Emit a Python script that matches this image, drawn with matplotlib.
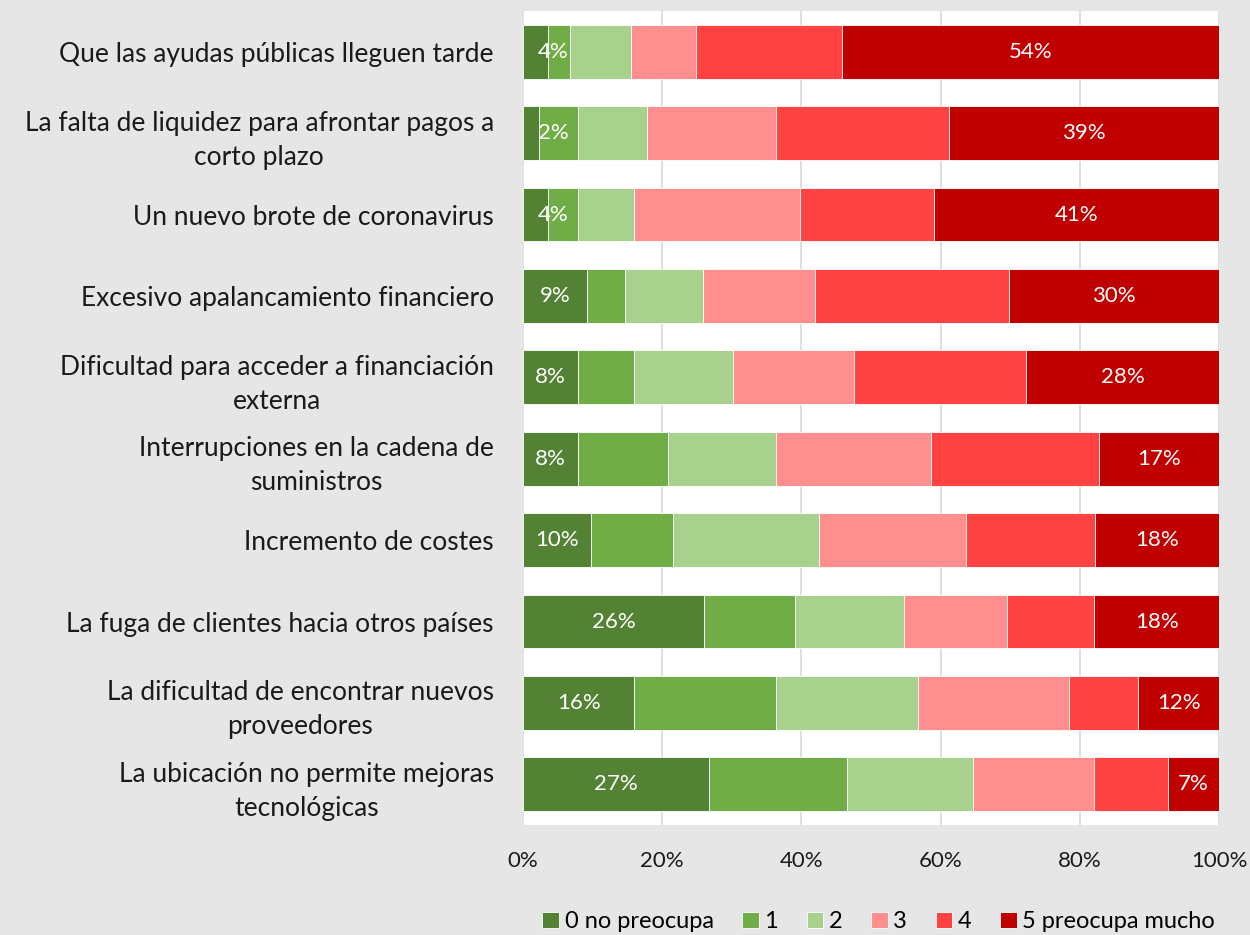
import matplotlib.pyplot as plt
import numpy as np

# Categories, top to bottom.
categories = [
    'Que las ayudas públicas lleguen tarde',
    'La falta de liquidez para afrontar pagos a\ncorto plazo',
    'Un nuevo brote de coronavirus',
    'Excesivo apalancamiento financiero',
    'Dificultad para acceder a financiación\nexterna',
    'Interrupciones en la cadena de\nsuministros',
    'Incremento de costes',
    'La fuga de clientes hacia otros países',
    'La dificultad de encontrar nuevos\nproveedores',
    'La ubicación no permite mejoras\ntecnológicas',
]

levels = ['0 no preocupa', '1', '2', '3', '4', '5 preocupa mucho']

# Share of answers (%) per level, one list per level, in category order.
lvl0 = [3.6, 2.3, 3.6, 9.2, 7.9, 7.9, 9.8, 26.0, 16.0, 26.7]
lvl1 = [3.1, 5.6, 4.3, 5.4, 8.0, 12.9, 11.8, 13.1, 20.4, 19.8]
lvl2 = [8.8, 9.9, 8.1, 11.2, 14.3, 15.6, 21.0, 15.6, 20.4, 18.1]
lvl3 = [9.4, 18.6, 23.8, 16.2, 17.4, 22.2, 21.0, 14.9, 21.7, 17.5]
lvl4 = [21.0, 24.8, 19.2, 27.8, 24.7, 24.1, 18.6, 12.5, 9.9, 10.6]
lvl5 = [54.1, 38.8, 41.0, 30.2, 27.7, 17.3, 17.8, 17.9, 11.6, 7.3]

colors = ['#548235', '#70AD47', '#A9D18E', '#FF8F8F', '#FF4343', '#C00000']
bg = '#E7E6E6'

plt.rcParams['font.family'] = ['Lato', 'DejaVu Sans']

fig = plt.figure(figsize=(12.5, 9.35), dpi=100, facecolor=bg)
ax = fig.add_axes([0.4184, 0.1176, 0.5568, 0.8706])

series = [lvl0, lvl1, lvl2, lvl3, lvl4, lvl5]
y = np.arange(len(categories))
left = np.zeros(len(categories))
for vals, col, name in zip(series, colors, levels):
    ax.barh(y, vals, left=left, height=0.66, color=col, edgecolor='white',
            linewidth=0.6, label=name, zorder=3)
    left += np.array(vals)

# Data labels on the first and last segment.
for i in range(len(categories)):
    v0 = lvl0[i]
    if v0 < 6:
        ax.text(2.1, i, f'{v0:.0f}%', ha='left', va='center', color='white',
                fontsize=16, zorder=4)
    else:
        ax.text(v0 / 2, i, f'{v0:.0f}%', ha='center', va='center',
                color='white', fontsize=16, zorder=4)
    v5 = lvl5[i]
    ax.text(100 - v5 / 2, i, f'{v5:.0f}%', ha='center', va='center',
            color='white', fontsize=16, zorder=4)

ax.set_xlim(0, 100)
ax.set_ylim(len(categories) - 0.5, -0.5)
ax.set_xticks([0, 20, 40, 60, 80, 100])
ax.set_xticklabels(['0%', '20%', '40%', '60%', '80%', '100%'])
ax.set_yticks(y)
ax.set_yticklabels(categories)
for lab in ax.get_yticklabels():
    lab.set_multialignment('center')
    lab.set_linespacing(1.45)

ax.xaxis.grid(True, color='#D9D9D9', linewidth=1.2, zorder=0)
ax.set_axisbelow(True)
for s in ax.spines.values():
    s.set_visible(False)
ax.tick_params(axis='y', length=0, pad=21, labelsize=19, labelcolor='#1a1a1a')
ax.tick_params(axis='x', length=0, pad=19, labelsize=16, labelcolor='#1a1a1a')

ax.legend(loc='lower center', bbox_to_anchor=(0.703, -0.012), bbox_transform=fig.transFigure,
          ncol=6, frameon=False, fontsize=17, handlelength=0.7, handleheight=0.7,
          handletextpad=0.25, columnspacing=1.2, borderaxespad=0.2)

fig.savefig('out.png', dpi=100, facecolor=bg)
